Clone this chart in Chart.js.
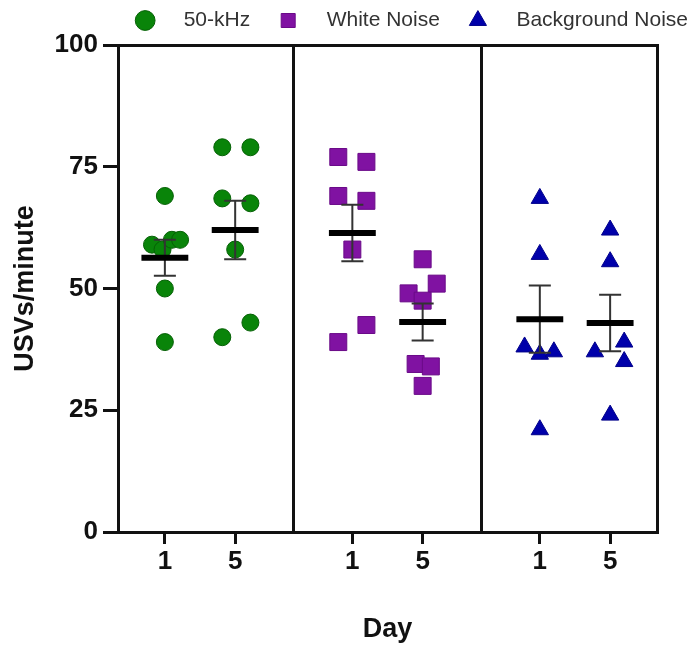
<!DOCTYPE html>
<html>
<head>
<meta charset="utf-8">
<script src="https://cdn.jsdelivr.net/npm/chart.js@4.4.1/dist/chart.umd.min.js"></script>
<style>
  html, body { margin: 0; padding: 0; background: #fff; }
  canvas { display: block; }
</style>
</head>
<body>
<canvas id="usv-chart" width="698" height="646"></canvas>
<script>
const groups = ['50-kHz', 'White Noise', 'Background Noise']
const dayLabels = ['1', '5']
const yTicks = [0, 25, 50, 75, 100]

// individual animals, USVs/minute
const kHzDay1 = [69, 59, 58, 60, 60, 50, 39]
const kHzDay5 = [79, 79, 68.5, 67.5, 58, 40, 43]
const whiteDay1 = [77, 76, 69, 68, 58, 42.5, 39]
const whiteDay5 = [56, 51, 49, 47.5, 34.5, 34, 30]
const backgroundDay1 = [68.5, 57, 38, 36.5, 37, 21]
const backgroundDay5 = [62, 55.5, 39, 37, 35, 24]

// horizontal scatter of the dots around their day
const kHzJitter1 = [0, -0.55, -0.1, 0.3, 0.65, 0, 0]
const kHzJitter5 = [-0.55, 0.65, -0.55, 0.65, 0, -0.55, 0.65]
const whiteJitter1 = [-0.6, 0.6, -0.6, 0.6, 0, 0.6, -0.6]
const whiteJitter5 = [0, 0.6, -0.6, 0, -0.3, 0.35, 0]
const backgroundJitter1 = [0, 0, -0.65, 0, 0.6, 0]
const backgroundJitter5 = [0, 0, 0.6, -0.65, 0.6, 0]

// mean +/- SEM, in order 50-kHz d1, d5, White d1, d5, Background d1, d5
const means = [56.3, 62.0, 61.4, 43.1, 43.7, 42.9]
const sems = [3.7, 6.0, 5.8, 3.8, 6.9, 5.8]

const dayPositions = [2, 5, 10, 13, 18, 21]
const dividers = [7.5, 15.5]
const xMax = 23
const font = 'Liberation Sans, Arial, sans-serif'
const ink = '#111'

const toPoints = (values, jitter, center) =>
  values.map((y, i) => ({ x: center + jitter[i], y }))

const groupData = [
  [kHzDay1, kHzJitter1, kHzDay5, kHzJitter5],
  [whiteDay1, whiteJitter1, whiteDay5, whiteJitter5],
  [backgroundDay1, backgroundJitter1, backgroundDay5, backgroundJitter5]
].map(([d1, j1, d5, j5], g) =>
  toPoints(d1, j1, dayPositions[g * 2]).concat(toPoints(d5, j5, dayPositions[g * 2 + 1])))

const meanLines = []
const errorLines = []
means.forEach((m, i) => {
  const c = dayPositions[i]
  const s = sems[i]
  meanLines.push({ x: c - 1, y: m }, { x: c + 1, y: m }, { x: c, y: null })
  errorLines.push(
    { x: c - 0.47, y: m + s }, { x: c + 0.47, y: m + s }, { x: c, y: null },
    { x: c, y: m + s }, { x: c, y: m - s }, { x: c, y: null },
    { x: c - 0.47, y: m - s }, { x: c + 0.47, y: m - s }, { x: c, y: null }
  )
})

const styles = [
  { pointStyle: 'circle', backgroundColor: '#098409', borderColor: '#056005', pointRadius: 8.5 },
  { pointStyle: 'rect', backgroundColor: '#8012a2', borderColor: '#6a0a88', pointRadius: 12 },
  { pointStyle: 'triangle', backgroundColor: '#0000aa', borderColor: '#00008a', pointRadius: 10 }
]

const datasets = groups.map((label, g) => ({
  label,
  data: groupData[g],
  borderWidth: 1,
  order: 2,
  ...styles[g]
}))

datasets.push({
  type: 'line',
  label: 'mean',
  data: meanLines,
  showLine: true,
  spanGaps: false,
  borderColor: '#000',
  borderWidth: 6,
  pointRadius: 0,
  order: 0
})
datasets.push({
  type: 'line',
  label: 'sem',
  data: errorLines,
  showLine: true,
  spanGaps: false,
  borderColor: '#333',
  borderWidth: 2,
  pointRadius: 0,
  order: 1
})

const pad = '   '

new Chart(document.getElementById('usv-chart'), {
  type: 'scatter',
  data: { datasets },
  options: {
    responsive: false,
    animation: false,
    layout: { padding: 0 },
    plugins: {
      tooltip: { enabled: false },
      legend: {
        position: 'top',
        align: 'end',
        labels: {
          usePointStyle: true,
          boxWidth: 21,
          boxHeight: 14,
          padding: 10,
          color: '#333',
          font: { family: font, size: 21 },
          generateLabels: chart =>
            Chart.defaults.plugins.legend.labels.generateLabels(chart)
              .filter(item => groups.includes(item.text))
              .sort((a, b) => a.datasetIndex - b.datasetIndex)
              .map((item, i) => ({
                ...item,
                text: pad + item.text + (i < groups.length - 1 ? pad : '')
              }))
        }
      }
    },
    scales: {
      x: {
        type: 'linear',
        min: 0,
        max: xMax,
        afterBuildTicks: axis => { axis.ticks = dayPositions.map(value => ({ value })) },
        afterFit: axis => { axis.height = 114 },
        ticks: {
          color: ink,
          padding: 2,
          maxRotation: 0,
          font: { family: font, size: 26, weight: 'bold' },
          callback: (value, index) => dayLabels[index % 2]
        },
        grid: { drawOnChartArea: false, color: ink, lineWidth: 3, tickLength: 12 },
        border: { color: ink, width: 3 },
        title: {
          display: true,
          text: 'Day',
          color: ink,
          padding: { top: 0, bottom: 0 },
          font: { family: font, size: 27, weight: 'bold' }
        }
      },
      top: {
        type: 'linear',
        position: 'top',
        min: 0,
        max: xMax,
        afterBuildTicks: axis => { axis.ticks = dividers.map(value => ({ value })) },
        afterFit: axis => { axis.height = 4 },
        ticks: { display: false },
        grid: { drawTicks: false, color: ink, lineWidth: 3 },
        border: { color: ink, width: 3 }
      },
      y: {
        min: 0,
        max: 100,
        afterBuildTicks: axis => { axis.ticks = yTicks.map(value => ({ value })) },
        afterFit: axis => { axis.width = 118 },
        ticks: {
          color: ink,
          padding: 5,
          font: { family: font, size: 26, weight: 'bold' }
        },
        grid: { drawOnChartArea: false, color: ink, lineWidth: 3, tickLength: 15 },
        border: { color: ink, width: 3 },
        title: {
          display: true,
          text: 'USVs/minute',
          color: ink,
          padding: { top: 9, bottom: 0 },
          font: { family: font, size: 27, weight: 'bold' }
        }
      },
      right: {
        type: 'linear',
        position: 'right',
        min: 0,
        max: 100,
        afterFit: axis => { axis.width = 41 },
        ticks: { display: false },
        grid: { display: false },
        border: { color: ink, width: 3 }
      }
    }
  }
})
</script>
</body>
</html>
